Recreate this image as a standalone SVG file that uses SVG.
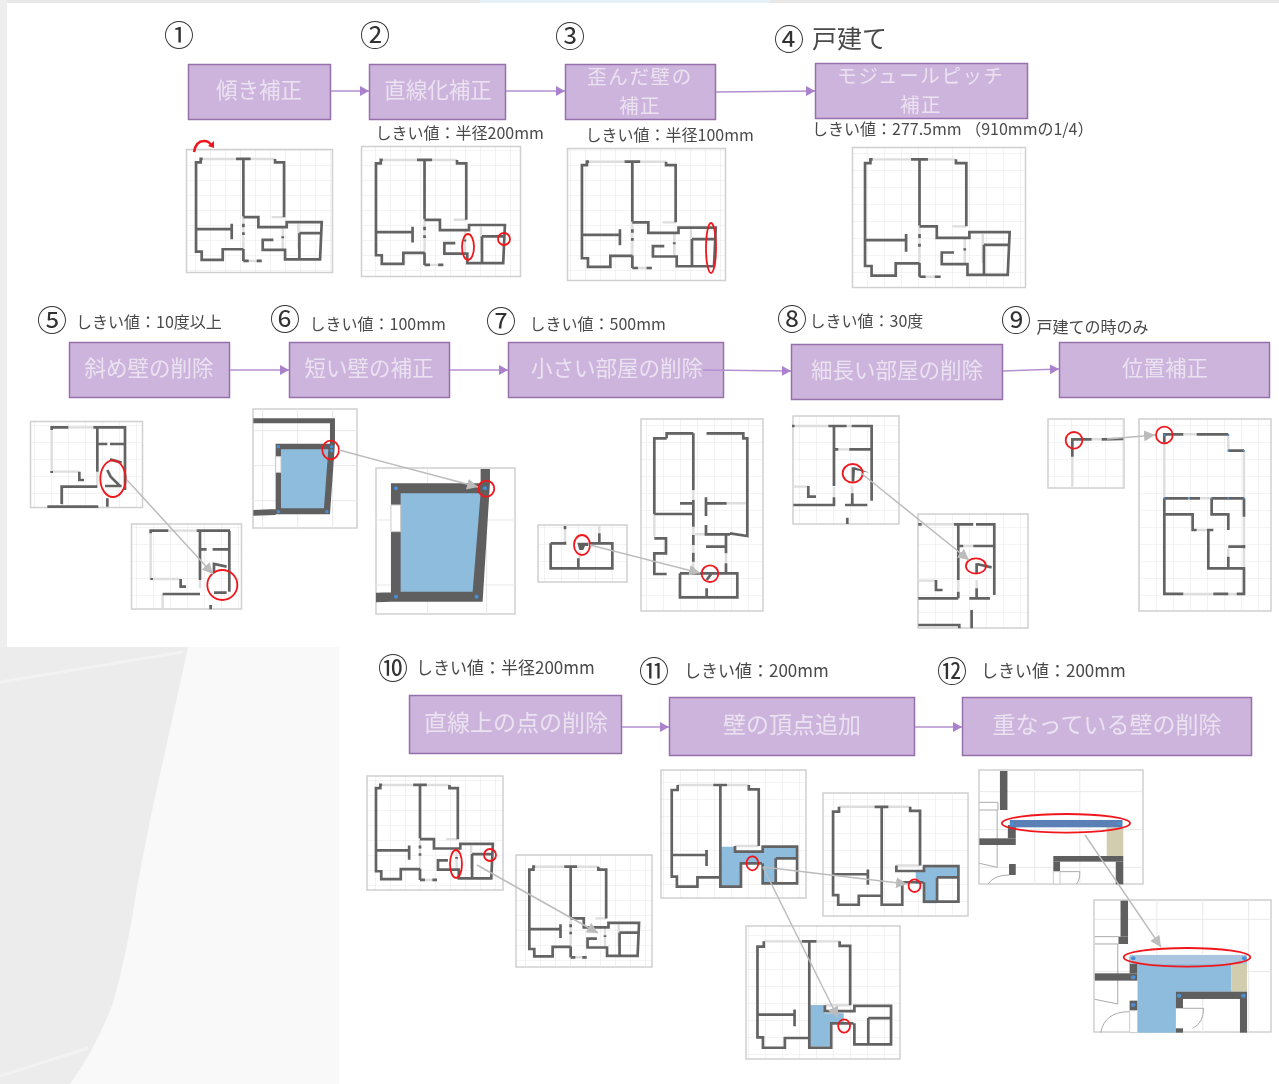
<svg xmlns="http://www.w3.org/2000/svg" xmlns:xlink="http://www.w3.org/1999/xlink" width="1279" height="1084" viewBox="0 0 1279 1084">
<style>
text{font-family:"Noto Sans CJK JP","Noto Sans CJK SC",sans-serif;fill:#4a4a4a}
.n{font-size:30px;text-anchor:middle;fill:#333}
.t{font-size:16px}
.bx{fill:#cdb4dc;stroke:#9670ab;stroke-width:1.5}
.bt{font-size:21.5px;text-anchor:middle;fill:#ebe2f1}
.bs{font-size:19.5px;letter-spacing:1.6px;text-anchor:middle;fill:#ebe2f1}
.bu{font-size:23px;text-anchor:middle;fill:#ebe2f1}
.f{stroke:#d0d0d0;stroke-width:1.5;fill:url(#g17)}
.f15{stroke:#d0d0d0;stroke-width:1.5;fill:url(#g15)}
.f0{stroke:#d0d0d0;stroke-width:1.5;fill:none}
.w{fill:none;stroke:#636363;stroke-width:2.7;vector-effect:non-scaling-stroke}
.l{fill:none;stroke:#dedede;stroke-width:2.4;vector-effect:non-scaling-stroke}
.gl{fill:none;stroke:#e8e8e8;stroke-width:1;vector-effect:non-scaling-stroke}
.th{fill:none;stroke:#aaa;stroke-width:1;vector-effect:non-scaling-stroke}
.d{fill:#5f5f5f}
.bl{fill:#8dbcdc}
.wh{fill:#fff;stroke:#ccc;stroke-width:1;vector-effect:non-scaling-stroke}
.pt{fill:#4a90d9}
.r{fill:none;stroke:#f0191e;stroke-width:1.8;vector-effect:non-scaling-stroke}
.a{stroke:#b48fd2;stroke-width:1.5;fill:none;marker-end:url(#mp)}
.c{stroke:#bcbcbc;stroke-width:1.5;fill:none;marker-end:url(#mg)}
</style>
<defs>
<filter id="soft" x="0" y="0" width="1279" height="1084" filterUnits="userSpaceOnUse"><feGaussianBlur stdDeviation="0.45"/></filter>
<pattern id="g17" width="17" height="17" patternUnits="userSpaceOnUse"><path d="M0,0H17M0,0V17" stroke="#e9e9e9" stroke-width="1.2" fill="none"/></pattern>
<pattern id="g15" width="15" height="15" patternUnits="userSpaceOnUse"><path d="M0,0H15M0,0V15" stroke="#e9e9e9" stroke-width="1.2" fill="none"/></pattern>
<marker id="mp" markerUnits="userSpaceOnUse" markerWidth="9" markerHeight="10" refX="9" refY="5" orient="auto"><path d="M0,0L9,5L0,10Z" fill="#ab80cc"/></marker>
<marker id="mg" markerUnits="userSpaceOnUse" markerWidth="11" markerHeight="11" refX="11" refY="5.5" orient="auto"><path d="M0,0L11,5.5L0,11Z" fill="#bcbcbc"/></marker>
<g id="planA">
<path class="l" d="M48,31H148M192,31H265M255,205H292M170,205V336M170,336H225M288,235V300M335,225V300"/>
<path class="w" d="M48,31H42V41H28V308H45V333H108V301H170M148,31H192M170,31V203M265,31V41H292V205M170,205H215V235H300V220H405L400,331H295V303H228V273H260M28,241H135M135,225V271M338,253H400M338,253V331M170,225V235M170,250V258M170,300V336M170,336H186M210,336H225M288,262V268"/>
</g>
<g id="plan11">
<path class="l" d="M70,75H160M195,75H250M215,258H275M178,380H230M178,258V270"/>
<path class="w" d="M70,75V90H55V350H68V380H120V352H178M160,75H195M178,75V258M250,75V88H275V258M55,285H145M143,270V318M178,258V380H230V310H283M215,258V275H285V260H372V370H285V310M318,295H372M318,295V370"/>
</g>
</defs>
<g id="background">
<rect width="1279" height="1084" fill="#f9f9f9"/>
<path d="M0,647H188L172,720L150,820L137,887Q128,950 113,1003Q95,1050 70,1084H0Z" fill="#ececec"/>
<path d="M0,682L183,652M0,1076L88,1048" stroke="#f2f2f2" stroke-width="3" fill="none"/>
<rect width="1279" height="3" fill="#e8e8e8"/>
<rect x="480" width="290" height="3" fill="#e6f0f8"/>
<rect y="0" width="7" height="647" fill="#eeeeee"/>
<rect x="7" y="3" width="1272" height="644" fill="#fff"/>
<rect x="339" y="647" width="940" height="437" fill="#fff"/>
</g>
<g filter="url(#soft)">
<g id="labels">
<text class="n" x="179" y="46">①</text>
<text class="n" x="375" y="46">②</text>
<text class="n" x="570" y="47">③</text>
<text class="n" x="789" y="50">④</text>
<text x="812" y="48" font-size="25">戸建て</text>
<text class="n" x="52" y="331">⑤</text>
<text class="n" x="285" y="330">⑥</text>
<text class="n" x="501" y="332">⑦</text>
<text class="n" x="792" y="330">⑧</text>
<text class="n" x="1016" y="331">⑨</text>
<text class="n" x="393" y="679">⑩</text>
<text class="n" x="654" y="682">⑪</text>
<text class="n" x="952" y="682">⑫</text>
<text class="t" x="375.500" y="139">しきい値：半径200mm</text>
<text class="t" x="585.500" y="141">しきい値：半径100mm</text>
<text class="t" x="812" y="135">しきい値：277.5mm （910mmの1/4）</text>
<text class="t" x="76" y="328">しきい値：10度以上</text>
<text class="t" x="309.500" y="330">しきい値：100mm</text>
<text class="t" x="529.500" y="330">しきい値：500mm</text>
<text class="t" x="809.500" y="327">しきい値：30度</text>
<text class="t" x="1036.500" y="333">戸建ての時のみ</text>
<text x="416" y="674" font-size="17">しきい値：半径200mm</text>
<text x="684" y="677" font-size="17">しきい値：200mm</text>
<text x="981" y="677" font-size="17">しきい値：200mm</text>
</g>
<g id="step1"><rect class="bx" x="188.500" y="64.500" width="142" height="55"/><text class="bt" x="259" y="98">傾き補正</text></g>
<g id="step2"><rect class="bx" x="369.500" y="64.500" width="136" height="55"/><text class="bt" x="438" y="98">直線化補正</text></g>
<g id="step3"><rect class="bx" x="565.500" y="64.500" width="150" height="55"/><text class="bs"><tspan x="640" y="84">歪んだ壁の</tspan><tspan x="640" y="113">補正</tspan></text></g>
<g id="step4"><rect class="bx" x="815.500" y="63.500" width="212" height="55"/><text class="bs"><tspan x="921" y="83">モジュールピッチ</tspan><tspan x="921" y="112">補正</tspan></text></g>
<g id="step5"><rect class="bx" x="69.500" y="342.500" width="160" height="55"/><text class="bt" x="149" y="376">斜め壁の削除</text></g>
<g id="step6"><rect class="bx" x="289.500" y="342.500" width="160" height="55"/><text class="bt" x="369" y="376">短い壁の補正</text></g>
<g id="step7"><rect class="bx" x="508.500" y="342.500" width="215" height="55"/><text class="bt" x="617" y="376">小さい部屋の削除</text></g>
<g id="step8"><rect class="bx" x="791.500" y="344.500" width="211" height="55"/><text class="bt" x="897" y="378">細長い部屋の削除</text></g>
<g id="step9"><rect class="bx" x="1059.500" y="342.500" width="210" height="55"/><text class="bt" x="1165" y="376">位置補正</text></g>
<g id="step10"><rect class="bx" x="409.500" y="695.500" width="212" height="58"/><text class="bu" x="516" y="731">直線上の点の削除</text></g>
<g id="step11"><rect class="bx" x="669.500" y="697.500" width="245" height="58"/><text class="bu" x="792" y="733">壁の頂点追加</text></g>
<g id="step12"><rect class="bx" x="962.500" y="697.500" width="289" height="58"/><text class="bu" x="1107" y="733">重なっている壁の削除</text></g>

<g id="plan1"><rect class="f15" x="186.500" y="149.500" width="146" height="123"/><use href="#planA" transform="translate(186.700,148.600) scale(.3334,.3344)"/>
<path d="M194,152Q196,141 204,141Q209,141 211,145" fill="none" stroke="#f0191e" stroke-width="2.500"/><path d="M208,146L214,141L214,148Z" fill="#f0191e"/></g>
<g id="plan2"><rect class="f15" x="361.500" y="146.500" width="159" height="130"/><use href="#planA" transform="translate(366.400,149.300) scale(.342,.344)"/>
<ellipse class="r" cx="468" cy="247" rx="6" ry="13"/><circle class="r" cx="504" cy="239" r="6"/></g>
<g id="plan3"><rect class="f15" x="567.500" y="148.500" width="158" height="132"/><use href="#planA" transform="translate(572,150.900) scale(.355,.3485)"/>
<ellipse class="r" cx="711" cy="248" rx="5" ry="25"/></g>
<g id="plan4"><rect class="f" x="852.500" y="147.500" width="173" height="140"/><use href="#planA" transform="translate(854.300,147.400) scale(.3836,.385)"/></g>

<g id="plan5a"><rect class="f" x="30.500" y="421.500" width="112" height="86"/>
<g transform="translate(20,400) scale(.3333)">
<path class="l" d="M95,90V215H178M145,82H220M127,262V315M232,215V260"/>
<path class="w" d="M95,90V82H145M220,82H315V270M232,82V215M232,132H262M270,132H315M270,178L305,188M262,210L272,230L300,258M255,258H305M125,312V260H232M178,215V240H192M95,213V219M262,295V320M82,320H235"/>
<ellipse class="r" cx="279" cy="236" rx="38" ry="55"/></g></g>
<g id="plan5b"><rect class="f" x="131.500" y="524" width="110" height="85"/>
<g transform="translate(20,400) scale(.3333)">
<path class="l" d="M392,400V537H482M445,392H530M428,582V625M540,540V565"/>
<path class="w" d="M392,400V392H445M530,392H630M540,392V540M540,448H560M578,448H628M628,392V575M582,520V492L620,500M582,578H620M428,582H540M482,537V560H498M395,534V540M572,615V628"/>
<circle class="r" cx="607" cy="555" r="45"/></g></g>

<g id="plan6a"><rect class="f0" x="253" y="409" width="104" height="119"/>
<g transform="translate(20,400) scale(.3333)">
<path class="gl" d="M728,27V386M833,27V386M938,27V386M698,92H1012M698,197H1012M698,302H1012"/>
<path class="d" d="M767,131H930V70H700V55H945V130L940,200L930,343H767ZM700,330L767,327V345L700,347Z"/>
<path class="bl" d="M783,148H925L912,325H783Z"/>
<rect class="wh" x="767" y="170" width="16" height="47"/>
<circle class="pt" cx="775" cy="140" r="5"/><circle class="pt" cx="935" cy="140" r="5"/><circle class="pt" cx="935" cy="152" r="5"/><circle class="pt" cx="775" cy="335" r="5"/><circle class="pt" cx="921" cy="335" r="5"/>
<ellipse class="r" cx="932" cy="150" rx="25" ry="28"/></g></g>
<g id="plan6b"><rect class="f0" x="376" y="468" width="139" height="146"/>
<g transform="translate(20,400) scale(.3333)">
<path class="gl" d="M1223,205V642M1400,205V642M1067,360H1485M1067,555H1485"/>
<path class="d" d="M1113,250H1382V207H1410L1410,250L1388,605H1113ZM1068,578L1113,577V605L1068,607Z"/>
<path class="bl" d="M1142,280H1382L1358,575H1142Z"/>
<rect class="wh" x="1113" y="315" width="29" height="80"/>
<circle class="pt" cx="1128" cy="265" r="6"/><circle class="pt" cx="1395" cy="265" r="6"/><circle class="pt" cx="1128" cy="590" r="6"/><circle class="pt" cx="1370" cy="590" r="6"/>
<circle class="r" cx="1399" cy="266" r="24"/></g></g>

<g id="plan7a"><rect class="f" x="538" y="525" width="89" height="57"/>
<g transform="translate(530,410) scale(.3333)">
<path class="l" d="M208,345V370M105,358V395M150,425V445"/>
<path class="w" d="M62,400V475H247V400H180M62,400H105V395M208,370V400M105,348V358M145,475V445"/>
<path class="d" d="M142,398H175V408H165L160,420H148Z"/>
<ellipse class="r" cx="156" cy="405" rx="24" ry="30"/></g></g>
<g id="plan7b"><rect class="f" x="641" y="419" width="122" height="192"/>
<g transform="translate(530,410) scale(.3333)">
<path class="l" d="M410,72H490M528,72H640M373,312V380M490,240V270M490,350V375M588,430V460M590,280H648M490,405V428M490,455V490M495,373H528"/>
<path class="w" d="M410,85V70H490M530,70H640V85H652V378L600,370M410,85H373V312M373,385H408V430H373V492H410M373,312H490M490,70V240M490,270V350M490,375V405M490,428V455M450,280H490M528,262V318M528,280H590M528,345V373H600M588,373V430M528,410H585M588,460V490M450,490H622V562H450V490M530,535V562M530,510L545,490"/>
<circle class="r" cx="540" cy="491" r="25"/></g></g>

<g id="plan8a"><rect class="f" x="793" y="416" width="106" height="108"/>
<g transform="translate(530,410) scale(.3333)">
<path class="l" d="M795,48H895M950,48H965M790,230H835M912,230V262M967,228V250M925,118H958"/>
<path class="w" d="M790,44V52M895,48H950M965,48H1025V272M912,48V228M912,118H925M958,118H1022M790,285H912V262M835,228V260H858M967,250V285M945,285H1012M952,323V342"/>
<path class="d" d="M965,172H975L1018,188L975,180L973,215H965Z"/>
<ellipse class="r" cx="968" cy="190" rx="30" ry="28"/></g></g>
<g id="plan8b"><rect class="f" x="918" y="514" width="110" height="114"/>
<g transform="translate(530,410) scale(.3333)">
<path class="l" d="M1175,343H1272M1285,510V545M1340,510V535M1300,408H1330M1165,512H1218"/>
<path class="w" d="M1165,343H1175M1272,343H1330M1338,343H1393V555M1285,343V510M1285,545V565M1285,408H1300M1330,408H1393M1165,565H1285M1218,510V540H1238M1340,460V490M1340,462L1385,472M1340,535V565M1318,565H1380M1325,600V655M1165,645H1288V655"/>
<ellipse class="r" cx="1338" cy="468" rx="30" ry="23"/></g></g>

<g id="plan9a"><rect class="f" x="1048" y="419" width="76" height="69"/>
<g transform="translate(1040,300) scale(.3333)">
<path class="l" d="M97,470V560M155,418H185"/>
<path class="w" d="M97,470V418H155M185,418L250,417"/>
<circle class="r" cx="102" cy="421" r="25"/></g></g>
<g id="plan9b"><rect class="f" x="1139" y="419" width="132" height="192"/>
<g transform="translate(1040,300) scale(.3333)">
<path class="l" d="M430,403H470M565,403V452M612,452V595M373,428V595M430,882H520M565,882H590M612,650V805M480,595H515M470,690H505M565,745V770"/>
<path class="w" d="M373,428V403H430M470,403H565M565,452H612M373,595V882H430M520,882H565M590,882H612V805H505V690H520M612,595H515M480,595H448M445,595H373M612,595V650M373,643H458V690H470M515,595V643H565V690M565,740H612M565,770V808M612,735V745"/>
<g class="pt"><circle cx="373" cy="405" r="3"/><circle cx="565" cy="405" r="3"/><circle cx="565" cy="452" r="3"/><circle cx="612" cy="452" r="3"/><circle cx="373" cy="595" r="3"/><circle cx="445" cy="595" r="3"/><circle cx="515" cy="595" r="3"/><circle cx="565" cy="595" r="3"/><circle cx="612" cy="595" r="3"/></g>
<circle class="r" cx="373" cy="405" r="25"/></g></g>

<g id="plan10a"><rect class="f15" x="367" y="776" width="136" height="114"/><use href="#planA" transform="translate(367.300,775.300) scale(.31,.3115)"/>
<ellipse class="r" cx="456" cy="864" rx="6" ry="14"/><circle class="r" cx="490" cy="855" r="6"/></g>
<g id="plan10b"><rect class="f15" x="516" y="855" width="136" height="112"/><use href="#planA" transform="translate(521.200,857.500) scale(.291,.297)"/></g>

<g id="plan11a"><rect class="f" x="661" y="770" width="145" height="128"/>
<g transform="translate(650,760) scale(.3954,.3333)">
<path class="bl" d="M180,260H215V275H285V260H370V295H318V370H285V310H230V378H178Z"/>
<use href="#plan11"/>
<ellipse class="r" cx="259" cy="310" rx="15" ry="21"/></g></g>
<g id="plan11b"><rect class="f" x="823" y="793" width="145" height="123"/>
<g transform="translate(650,760) scale(.3954,.3333)">
<path class="bl" d="M690,322H778V352H725V430H692V372H672V335H690Z"/>
<use href="#plan11" transform="translate(408,68.100) scale(1,.9636)"/>
<ellipse class="r" cx="669" cy="377" rx="15" ry="19"/></g></g>
<g id="plan11c"><rect class="f" x="746" y="926" width="154" height="133"/>
<g transform="translate(650,760) scale(.3954,.3333)">
<path class="bl" d="M405,735H440V760H490V790H455V860H403Z"/>
<use href="#plan11" transform="translate(213.200,465.600) scale(1.0656,1.0468)"/>
<ellipse class="r" cx="491" cy="798" rx="15" ry="20"/></g></g>

<g id="plan12a"><rect class="f0" x="979" y="770" width="164" height="114"/>
<g transform="translate(650,760) scale(.3954,.3333)">
<path class="gl" d="M973,30V373M1087,30V373M832,95H1245M832,209H1245M832,322H1245"/>
<rect class="d" x="885" y="33" width="19" height="117"/>
<path class="th" d="M833,127H880V150H833M878,150V322M833,310L878,322M855,372Q870,345 908,345M1037,335H1087Q1088,360 1078,372"/>
<rect class="d" x="833" y="235" width="92" height="20"/><rect class="d" x="905" y="195" width="20" height="40"/><rect class="d" x="908" y="312" width="17" height="33"/>
<rect x="1155" y="202" width="42" height="86" fill="#d2cdae"/>
<rect x="910" y="180" width="285" height="22" fill="#5a80b5"/>
<rect class="d" x="1020" y="288" width="177" height="17"/><rect class="d" x="1020" y="305" width="17" height="30"/><rect class="d" x="1178" y="305" width="19" height="68"/>
<rect class="wh" x="1020" y="335" width="17" height="37"/>
<circle class="pt" cx="915" cy="192" r="5"/><circle class="pt" cx="1187" cy="190" r="5"/>
<ellipse class="r" cx="1052" cy="190" rx="162" ry="28"/></g></g>
<g id="plan12b"><rect class="f0" x="1094" y="900" width="177" height="132"/>
<g transform="translate(650,760) scale(.3954,.3333)">
<path class="gl" d="M1282,420V818M1398,420V818M1514,420V818M1125,478H1570M1125,635H1570"/>
<rect class="d" x="1190" y="422" width="19" height="108"/><rect class="d" x="1185" y="530" width="24" height="22"/>
<path class="th" d="M1125,530H1185V552H1125M1183,552V732M1125,718L1183,732M1140,818Q1150,755 1213,755M1348,745H1400Q1400,790 1372,805"/>
<rect class="d" x="1213" y="590" width="20" height="50"/><rect class="d" x="1125" y="640" width="108" height="22"/><rect class="d" x="1213" y="722" width="20" height="30"/>
<path class="bl" d="M1233,612H1470V695H1330V818H1233Z"/>
<rect x="1470" y="605" width="40" height="90" fill="#d2cdae"/>
<rect x="1213" y="585" width="297" height="27" fill="#a9c5e0"/>
<rect class="d" x="1330" y="695" width="180" height="22"/><rect class="d" x="1330" y="717" width="18" height="28"/><rect class="d" x="1492" y="717" width="18" height="101"/><rect class="d" x="1330" y="805" width="18" height="13"/>
<rect class="wh" x="1213" y="752" width="20" height="66"/>
<g class="pt"><circle cx="1222" cy="595" r="6"/><circle cx="1503" cy="595" r="6"/><circle cx="1222" cy="652" r="6"/><circle cx="1222" cy="735" r="6"/><circle cx="1338" cy="707" r="6"/><circle cx="1501" cy="707" r="6"/></g>
<ellipse class="r" cx="1358" cy="592" rx="160" ry="28"/></g></g>

<g id="connectors">
<path class="a" d="M331,91H369"/><path class="a" d="M506,91H565"/><path class="a" d="M716,92L815,91"/>
<path class="a" d="M230,370H289"/><path class="a" d="M450,370H508"/><path class="a" d="M703,370L791,371"/><path class="a" d="M1003,371L1059,369"/>
<path class="a" d="M622,727H669"/><path class="a" d="M915,727H962"/>
<path class="c" d="M127,480L213,574"/><path class="c" d="M339,450L478,487"/><path class="c" d="M590,545L700,573"/><path class="c" d="M861,473L969,560"/><path class="c" d="M1107,439L1155,435"/>
<path class="c" d="M477,865L598,933"/><path class="c" d="M763,867L907,884"/><path class="c" d="M763,867L838,1018"/><path class="c" d="M1085,835L1161,947"/>
</g>
</g>
</svg>
